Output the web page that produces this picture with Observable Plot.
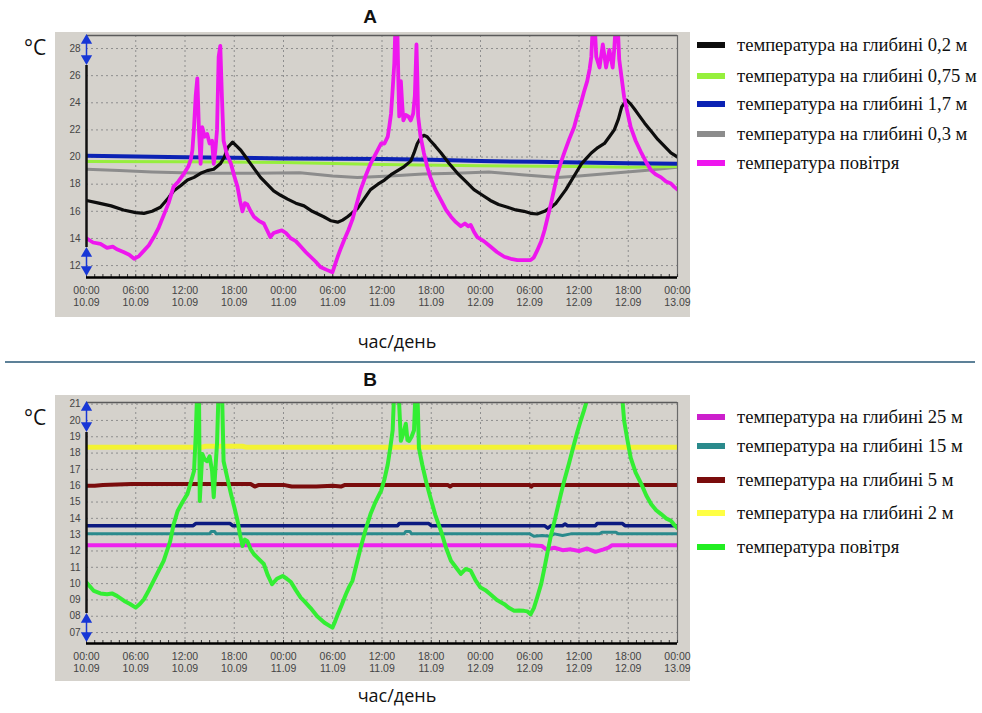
<!DOCTYPE html>
<html><head><meta charset="utf-8">
<script src="https://cdn.jsdelivr.net/npm/d3@7"></script>
<script src="https://cdn.jsdelivr.net/npm/@observablehq/plot@0.6"></script>
<style>
body{margin:0;background:#fff;}
#page{position:relative;width:982px;height:713px;overflow:hidden;background:#fff;}
.abs{position:absolute;}
.title{font-family:"Liberation Sans Narrow","Liberation Sans",Arial,sans-serif;font-weight:bold;font-size:19px;line-height:20px;text-align:center;color:#111;}
.unit{font-family:"Open Sans",sans-serif;font-size:21px;line-height:22px;color:#111;}
.xlab{font-family:"Open Sans",sans-serif;font-size:18px;line-height:22px;text-align:center;color:#111;}
.item{position:absolute;display:flex;align-items:center;white-space:nowrap;font-family:"Liberation Serif","DejaVu Serif","Times New Roman",serif;font-size:18.6px;line-height:20px;color:#111;}
.sw{width:28px;height:6px;margin-right:12px;flex:none;}
</style></head><body><div id="page"></div>
<script>
// ---------- shared axis data ----------
const xTickHours = [0, 6, 12, 18, 24, 30, 36, 42, 48, 54, 60, 66, 72];
const xTickTimes = ["00:00","06:00","12:00","18:00","00:00","06:00","12:00","18:00","00:00","06:00","12:00","18:00","00:00"];
const xTickDays  = ["10.09","10.09","10.09","10.09","11.09","11.09","11.09","11.09","12.09","12.09","12.09","12.09","13.09"];
const minorHours = d3.range(0, 73, 1);

// ---------- panel A ----------
const yTicksA = [12, 14, 16, 18, 20, 22, 24, 26, 28];
const yLabelsA = ["12","14","16","18","20","22","24","26","28"];
const yDomainA = [11.12, 28.96];

const namesA = ["температура на глибині 0,2 м", "температура на глибині 0,75 м", "температура на глибині 1,7 м", "температура на глибині 0,3 м", "температура повітря"];

const airA = [[0,14.0],[0.8,13.7],[1.7,13.6],[2.5,13.3],[3.2,13.4],[3.7,13.2],[4.5,13.0],[5.2,12.8],[5.8,12.5],[6.4,12.7],[7,13.1],[7.6,13.5],[8.2,14.1],[8.8,14.8],[9.4,15.7],[10,16.6],[10.6,17.8],[11.2,18.2],[11.9,18.8],[12.4,19.3],[12.7,19.8],[12.9,20.5],[13.1,22.2],[13.3,24.5],[13.5,25.8],[13.7,22],[13.9,19.5],[14.1,22.2],[14.4,21.5],[14.7,21.7],[15.0,21.0],[15.3,21.2],[15.5,19.5],[15.7,20.5],[15.9,22],[16.1,27.4],[16.3,28.2],[16.5,24.4],[16.7,21.2],[17.1,20.2],[17.6,19.5],[18.0,18.6],[18.4,17.8],[18.7,16.8],[19.0,16.0],[19.3,16.6],[19.6,16.5],[20.0,16.0],[20.4,15.6],[21.0,15.3],[21.6,15.1],[22.0,14.6],[22.4,14.1],[22.8,14.4],[23.3,14.5],[23.8,14.6],[24.3,14.4],[24.9,14.0],[25.5,13.8],[26.1,13.4],[26.7,13.0],[27.3,12.65],[27.9,12.3],[28.5,11.9],[29.2,11.7],[29.96,11.5],[30.3,12.1],[30.6,12.65],[31.0,13.3],[31.4,13.9],[31.9,14.6],[32.4,15.4],[32.9,16.5],[33.4,17.6],[34.0,18.6],[34.6,19.5],[35.2,20.2],[35.9,21.0],[36.3,21.0],[36.7,21.5],[36.9,22.3],[37.1,23.2],[37.3,25],[37.5,26.9],[37.65,30],[37.85,30],[38.0,25.5],[38.1,23.0],[38.3,25.6],[38.45,24],[38.6,22.7],[38.9,23.1],[39.2,23.0],[39.5,22.7],[39.8,23.2],[40.0,24.5],[40.2,28.3],[40.3,26],[40.4,23.0],[40.7,21.5],[41.1,20.3],[41.5,19.3],[41.9,18.5],[42.5,17.6],[43.2,16.8],[43.8,16.1],[44.4,15.6],[45.0,15.2],[45.6,14.9],[46.1,15.1],[46.5,14.9],[46.8,15.0],[47.2,14.5],[47.6,14.1],[48.4,13.8],[49.2,13.4],[50.0,13.0],[50.9,12.65],[51.7,12.5],[52.5,12.4],[53.3,12.4],[54.1,12.4],[54.5,12.6],[54.9,13.1],[55.4,13.8],[55.8,14.6],[56.2,15.6],[56.6,16.6],[57.0,17.7],[57.4,18.8],[57.8,19.6],[58.2,20.3],[58.8,21.3],[59.4,22.2],[59.8,23.1],[60.2,23.9],[60.6,24.8],[61.0,25.6],[61.3,26.5],[61.5,27.4],[61.7,30],[61.9,30],[62.1,27.4],[62.5,26.6],[62.9,28.3],[63.3,26.6],[63.7,27.9],[64.1,26.6],[64.3,28],[64.5,30],[64.7,30],[64.9,27.2],[65.2,25.8],[65.5,24.4],[65.9,23.3],[66.3,22.2],[66.9,21.2],[67.6,20.3],[68.2,19.6],[68.8,19.0],[69.4,18.7],[70.0,18.5],[70.6,18.2],[71.2,18.05],[71.6,17.8],[72.0,17.6]];

const depth02A = [[0,16.8],[1.5,16.6],[3,16.4],[4.5,16.1],[6,15.9],[7,15.85],[8,16.0],[9,16.3],[10,17.0],[10.6,17.5],[11.5,17.9],[12.3,18.3],[13.1,18.5],[13.9,18.8],[14.7,19.0],[15.5,19.1],[16.3,19.5],[16.8,20.0],[17.2,20.7],[17.8,21.1],[18.3,20.8],[18.8,20.5],[19.4,20.0],[20,19.5],[20.6,19.0],[21.2,18.5],[22,18.0],[22.8,17.5],[23.6,17.2],[24.5,16.9],[25.5,16.6],[26.5,16.4],[27.5,16.0],[28.9,15.6],[29.8,15.3],[30.6,15.2],[31.2,15.35],[31.8,15.6],[32.4,15.9],[33.0,16.2],[33.8,16.9],[34.6,17.6],[35.5,18.0],[36.3,18.3],[37.1,18.7],[37.9,19.0],[38.7,19.3],[39.5,19.7],[39.9,20.3],[40.3,21.0],[40.7,21.4],[41.1,21.6],[41.5,21.5],[41.9,21.2],[42.5,20.8],[43.2,20.3],[44.2,19.5],[45.2,18.8],[46.2,18.2],[47.2,17.6],[48.2,17.2],[49.2,16.8],[50.2,16.5],[51.3,16.3],[52.3,16.1],[53.3,16.0],[54.1,15.85],[54.9,15.8],[55.8,16.0],[56.6,16.3],[57.2,16.6],[57.8,17.1],[58.4,17.6],[59.1,18.3],[59.7,18.9],[60.3,19.5],[60.9,19.9],[61.5,20.3],[62.3,20.7],[63.1,21.0],[63.7,21.5],[64.3,22.0],[64.8,22.8],[65.2,23.7],[65.8,24.2],[66.3,23.9],[66.8,23.5],[67.4,23.0],[68,22.5],[68.8,21.9],[69.6,21.3],[70.4,20.8],[71.2,20.3],[72,20.0]];

const depth17A = [[0,20.1],[4,20.05],[12,19.98],[24,19.9],[36,19.85],[42,19.8],[48,19.7],[55,19.65],[60,19.6],[66,19.55],[72,19.5]];
const depth075A = [[0,19.68],[12,19.65],[24,19.6],[36,19.45],[48,19.35],[60,19.3],[66,19.25],[72,19.3]];
const depth03A = [[0,19.1],[4,19.0],[8,18.9],[14,18.8],[20,18.8],[26,18.85],[30,18.6],[33,18.5],[37,18.6],[41,18.75],[45,18.8],[49,18.9],[53,18.7],[57.4,18.5],[60,18.6],[64,18.8],[68,19.0],[72,19.25]];

// ---------- panel B ----------
const yTicksB = [7, 8, 9, 10, 11, 12, 13, 14, 15, 16, 17, 18, 19, 20, 21];
const yLabelsB = ["07","08","09","10","11","12","13","14","15","16","17","18","19","20","21"];
const yDomainB = [6.33, 21.1];

const namesB = ["температура на глибині 25 м", "температура на глибині 15 м", "температура на глибині 5 м", "температура на глибині 2 м", "температура повітря"];

const airB = [[0,10.06],[0.9,9.55],[1.7,9.4],[2.5,9.35],[3.1,9.4],[3.7,9.25],[4.6,8.94],[5.3,8.75],[6,8.53],[6.5,8.75],[7,9.04],[7.6,9.6],[8.2,10.2],[8.8,10.8],[9.4,11.4],[10.2,12.6],[10.6,13.6],[11.1,14.45],[11.7,15.0],[12.3,15.5],[12.7,16.2],[13.1,16.9],[13.3,19],[13.5,22],[13.7,22],[13.8,15.07],[14.1,17.95],[14.4,17.6],[14.7,17.5],[15.0,17.8],[15.3,16.9],[15.5,15.3],[15.7,17.0],[15.9,18.55],[16.1,22],[16.5,22],[16.7,17.5],[17.1,16.6],[17.6,15.5],[18.0,14.7],[18.4,13.85],[18.7,13.0],[19.0,12.3],[19.3,12.7],[19.6,12.6],[20.0,12.1],[20.4,11.8],[21.0,11.5],[21.6,11.2],[22.1,10.5],[22.6,9.96],[23.2,10.3],[23.9,10.47],[24.4,10.3],[24.9,10.1],[25.5,9.6],[26.1,9.14],[26.5,8.94],[27.3,8.5],[28.1,8.0],[29,7.6],[29.96,7.3],[30.3,7.7],[30.6,8.1],[31.1,8.7],[31.6,9.35],[32.0,9.8],[32.4,10.17],[32.9,11.2],[33.4,12.2],[34.0,13.3],[34.6,14.26],[35.2,15.0],[35.9,15.7],[36.3,16.4],[36.7,17.3],[37.0,18.3],[37.3,19.4],[37.5,22],[38.0,22],[38.3,18.75],[38.6,19.2],[38.9,19.8],[39.1,18.8],[39.3,18.75],[39.6,19.0],[39.9,19.4],[40.1,22],[40.3,22],[40.5,18.3],[40.9,17.3],[41.4,16.2],[41.9,15.27],[42.5,14.2],[43.2,13.2],[43.8,12.2],[44.4,11.4],[45.0,11.0],[45.6,10.6],[46.2,10.9],[46.8,10.8],[47.4,10.2],[48.0,9.76],[48.6,9.6],[49.2,9.35],[50.0,9.0],[50.9,8.74],[51.5,8.5],[52.1,8.33],[52.7,8.35],[53.3,8.33],[53.7,8.3],[54.1,8.12],[54.5,8.5],[54.9,9.14],[55.4,10.0],[55.8,10.98],[56.2,12.0],[56.6,13.0],[57.0,13.8],[57.4,14.66],[57.8,15.5],[58.2,16.3],[58.8,17.4],[59.4,18.55],[59.8,19.3],[60.2,19.98],[60.6,20.6],[61.0,21.3],[61.5,22],[65.0,22],[65.3,21.2],[65.5,19.98],[65.9,18.8],[66.3,17.7],[66.9,16.8],[67.6,16.1],[68.2,15.4],[68.8,14.87],[69.4,14.5],[70.0,14.26],[70.6,14.0],[71.2,13.85],[71.6,13.6],[72,13.4]];

const depth2B = [[0,18.35],[14,18.35],[14.5,18.42],[19,18.42],[19.5,18.35],[72,18.35]];
const depth5B = [[0,16.0],[1,16.0],[2,16.05],[5.5,16.1],[20,16.1],[20.5,15.95],[21,16.05],[24,16.05],[25,15.95],[28,15.95],[30,16.0],[31,15.95],[31.5,16.05],[44,16.05],[44.3,15.95],[44.6,16.05],[54,16.05],[54.2,15.95],[54.4,16.05],[72,16.05]];
const extraNavyB = [[0,13.55],[13,13.55],[13.3,13.68],[17.5,13.68],[17.8,13.55],[37.9,13.55],[38.1,13.68],[41.7,13.68],[42,13.55],[55.8,13.55],[56.2,13.4],[56.6,13.55],[58,13.55],[58.3,13.65],[58.6,13.55],[62,13.55],[62.2,13.68],[65.3,13.68],[65.6,13.55],[72,13.55]];
const depth15B = [[0,13.05],[15,13.05],[15.2,13.2],[15.6,13.2],[15.8,13.05],[38.7,13.05],[38.9,13.2],[39.4,13.2],[39.6,13.05],[54,13.05],[54.5,12.9],[55.5,12.95],[56.5,12.9],[57,13.05],[58,12.95],[59,13.05],[62.5,13.05],[62.8,13.15],[64.5,13.15],[64.8,13.05],[72,13.05]];
const depth25B = [[0,12.35],[54,12.35],[55.5,12.3],[56,12.1],[57,12.2],[58,12.05],[59,12.1],[60,12.0],[61,12.15],[62,11.95],[63,12.1],[63.6,12.2],[64,12.35],[72,12.35]];

// ---------- drawing ----------
const page = document.getElementById("page");
function addDiv(cls, html, style) {
  const d = document.createElement("div");
  d.className = "abs " + cls;
  d.innerHTML = html;
  Object.assign(d.style, style);
  page.appendChild(d);
  return d;
}

function panel({top, height, mT, mB, yDomain, yTicks, yLabels, series}) {
  const W = 635, mL = 31, mR = 13;
  const k = (height - mT - mB) / (yDomain[1] - yDomain[0]);
  const blue = "#1737d6";
  const svg = Plot.plot({
    width: W, height, marginLeft: mL, marginRight: mR, marginTop: mT, marginBottom: mB,
    style: {background: "#d5d2cc", fontFamily: "'Liberation Sans', Arial, sans-serif", overflow: "visible"},
    x: {domain: [0, 72]},
    y: {domain: yDomain},
    marks: [
      Plot.ruleY(yTicks, {stroke: "#8e8e8e", strokeDasharray: "2,3", strokeWidth: 1}),
      Plot.ruleX(xTickHours.slice(1, -1), {stroke: "#8e8e8e", strokeDasharray: "2,3", strokeWidth: 1}),
      ...series.map(s => Plot.line(s.data, {x: d => d[0], y: d => d[1], stroke: s.color, strokeWidth: s.width, clip: true})),
      Plot.ruleY([yDomain[1]], {stroke: "#5a5a5a", strokeWidth: 1.5}),
      Plot.ruleX([72], {stroke: "#6a6a6a", strokeWidth: 1.2}),
      Plot.ruleX(minorHours, {y1: yDomain[0], y2: yDomain[0] + 3 / k, stroke: "#333", strokeWidth: 1}),
      Plot.ruleY([yDomain[0]], {stroke: "#000", strokeWidth: 2.5}),
      Plot.ruleX([0], {y1: yDomain[1] - 30 / k, y2: yDomain[0] + 30 / k, stroke: "#111", strokeWidth: 2.5}),
      Plot.ruleX([0], {y1: yDomain[1] - 5 / k, y2: yDomain[1] - 23 / k, stroke: blue, strokeWidth: 1.5}),
      Plot.ruleX([0], {y1: yDomain[0] + 24 / k, y2: yDomain[0] + 8 / k, stroke: blue, strokeWidth: 1.5}),
      Plot.dot([0], {x: d => 0, y: d => yDomain[1], dy: 5, symbol: "triangle", r: 4.2, fill: blue}),
      Plot.dot([0], {x: d => 0, y: d => yDomain[1], dy: 23, symbol: "triangle", rotate: 180, r: 4.2, fill: blue}),
      Plot.dot([0], {x: d => 0, y: d => yDomain[0], dy: -24, symbol: "triangle", r: 4.2, fill: blue}),
      Plot.dot([0], {x: d => 0, y: d => yDomain[0], dy: -8, symbol: "triangle", rotate: 180, r: 4.2, fill: blue}),
      Plot.axisY(yTicks, {tickFormat: d => yLabels[yTicks.indexOf(d)], tickSize: 0, tickPadding: 6, fontSize: 10, fill: "#444", label: null}),
      Plot.axisX(xTickHours, {tickFormat: d => xTickTimes[xTickHours.indexOf(d)] + "\n" + xTickDays[xTickHours.indexOf(d)], tickSize: 0, tickPadding: 8, fontSize: 10.5, lineHeight: 1.12, fill: "#444", label: null})
    ]
  });
  const holder = addDiv("", "", {left: "55px", top: top + "px"});
  holder.appendChild(svg);
}

function legend(names, colors, tops, left) {
  names.forEach((n, i) => {
    const it = document.createElement("div");
    it.className = "item";
    it.style.left = left + "px";
    it.style.top = (tops[i] - 10) + "px";
    it.innerHTML = `<span class="sw" style="background:${colors[i]}"></span><span>${n}</span>`;
    page.appendChild(it);
  });
}

// Panel A
addDiv("title", "A", {left: "320px", top: "7px", width: "100px"});
addDiv("unit", "°C", {left: "24px", top: "36px"});
panel({top: 32, height: 285, mT: 3, mB: 40, yDomain: yDomainA, yTicks: yTicksA, yLabels: yLabelsA,
  series: [
    {data: depth03A, color: "#8c8c8c", width: 3},
    {data: depth075A, color: "#96ee3c", width: 3},
    {data: depth17A, color: "#0b22b4", width: 4},
    {data: depth02A, color: "#0d0d0d", width: 3.2},
    {data: airA, color: "#ee16ee", width: 3.8}
  ]});
legend(namesA, ["#0d0d0d", "#96f03c", "#0b22b4", "#8c8c8c", "#ee16ee"], [45, 76, 104, 134, 163], 697);
addDiv("xlab", "час/день", {left: "297px", top: "330px", width: "200px"});

// separator
addDiv("", "", {left: "5px", top: "361px", width: "970px", height: "1.5px", background: "#5d8198"});

// Panel B
addDiv("title", "B", {left: "320px", top: "370px", width: "100px"});
addDiv("unit", "°C", {left: "24px", top: "406px"});
panel({top: 395, height: 286, mT: 7, mB: 38, yDomain: yDomainB, yTicks: yTicksB, yLabels: yLabelsB,
  series: [
    {data: depth2B, color: "#f3f334", width: 5},
    {data: depth5B, color: "#7a0c0c", width: 4},
    {data: extraNavyB, color: "#0c1a80", width: 3.5},
    {data: depth15B, color: "#2a8a8c", width: 3},
    {data: depth25B, color: "#ee22ee", width: 4},
    {data: airB, color: "#33ee33", width: 4}
  ]});
legend(namesB, ["#cc1fcc", "#2a8a8c", "#7a0c0c", "#ffff44", "#22ee22"], [417, 446, 480, 513, 547], 697);
addDiv("xlab", "час/день", {left: "297px", top: "684px", width: "200px"});
</script>
</body></html>
